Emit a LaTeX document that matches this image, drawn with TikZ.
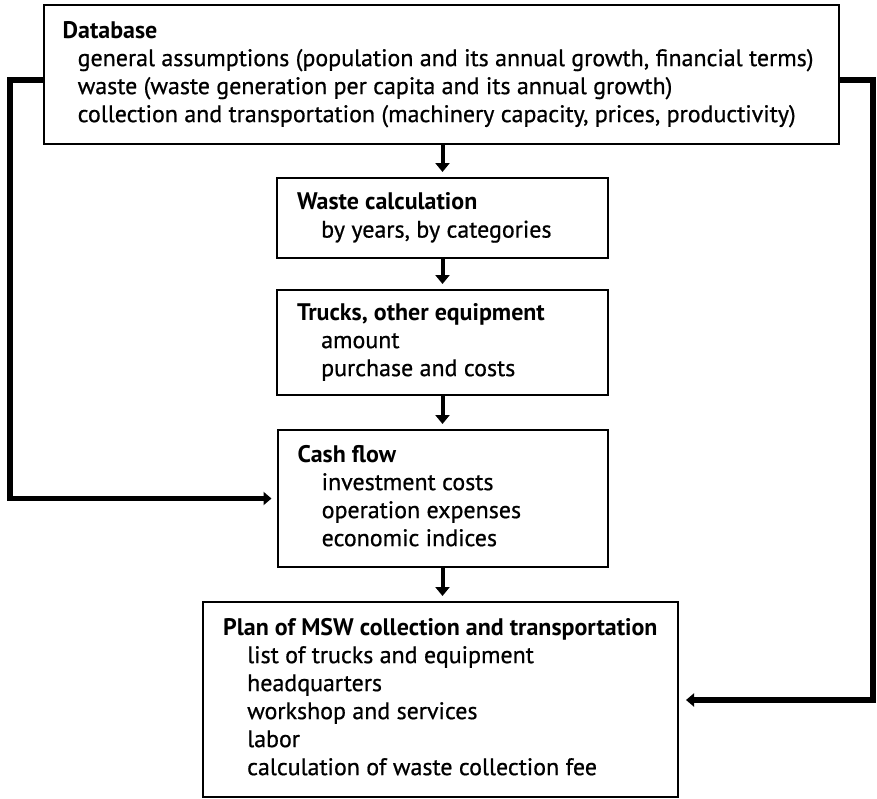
\documentclass[tikz,border=0pt]{standalone}
\usepackage{fontspec}
\setmainfont{PT Sans}[UprightFeatures={FakeBold=0.7}]
\usetikzlibrary{arrows.meta}
\newlength\reflen
\newcommand\LnT[1]{\strut\textbf{#1}}
\newcommand\LnI[2]{\strut\hspace*{#1}#2}
\begin{document}
\settowidth\reflen{\fontsize{20pt}{28pt}\selectfont collection and transportation (machinery capacity, prices, productivity)}%
\pgfmathsetmacro\fs{20*718/\reflen}%
\begin{tikzpicture}[x=1pt,y=-1pt,
  box/.style={draw=black, line width=2pt, inner sep=0pt, fill=white},
  txt/.style={anchor=west, inner sep=0pt, align=left, text=black,
              font=\fontsize{\fs pt}{28pt}\selectfont},
  down/.style={line width=4pt, -{Triangle[width=14pt,length=9pt]}, shorten >=5pt},
  feed/.style={line width=5.5pt, -{Triangle[width=13pt,length=8pt]}}]
\useasboundingbox (0,0) rectangle (877,798);
\fill[white] (0,0) rectangle (877,798);

% boxes
\node[box, minimum width=795pt, minimum height=139pt] (db) at (441.5,74.5) {};
\node[box, minimum width=331pt, minimum height=80pt] (waste) at (442.5,218) {};
\node[box, minimum width=331pt, minimum height=105pt] (trucks) at (442.5,342.5) {};
\node[box, minimum width=330pt, minimum height=137pt] (cash) at (442.5,498.5) {};
\node[box, minimum width=475pt, minimum height=195pt] (plan) at (440.5,699.5) {};

% texts
\node[txt] (dbt) at ([xshift=19.5pt]db.west) {\LnT{Database}\\
  \LnI{15pt}{general assumptions (population and its annual growth, financial terms)}\\
  \LnI{15pt}{waste (waste generation per capita and its annual growth)}\\
  \LnI{15pt}{collection and transportation (machinery capacity, prices, productivity)}};
\node[txt] (wastet) at ([xshift=21pt]waste.west) {\LnT{Waste calculation}\\
  \LnI{24pt}{by years, by categories}};
\node[txt] (truckst) at ([xshift=21pt]trucks.west) {\LnT{Trucks, other equipment}\\
  \LnI{24pt}{amount}\\
  \LnI{24pt}{purchase and costs}};
\node[txt] (casht) at ([xshift=21pt]cash.west) {\LnT{Cash flow}\\
  \LnI{24pt}{investment costs}\\
  \LnI{24pt}{operation expenses}\\
  \LnI{24pt}{economic indices}};
\node[txt] (plant) at ([xshift=21pt]plan.west) {\LnT{Plan of MSW collection and transportation}\\
  \LnI{24pt}{list of trucks and equipment}\\
  \LnI{24pt}{headquarters}\\
  \LnI{24pt}{workshop and services}\\
  \LnI{24pt}{labor}\\
  \LnI{24pt}{calculation of waste collection fee}};

% vertical arrows
\draw[down] (db.south -| waste.north) -- (waste.north);
\draw[down] (waste.south) -- (trucks.north);
\draw[down] (trucks.south) -- (cash.north);
\draw[down] (cash.south) -- (cash.south |- plan.north);

% feedback connectors
\coordinate (lc) at (10,80);
\coordinate (lb) at (10,498.5);
\draw[feed, shorten >=5pt] (db.west |- lc) -- (lc) -- (lb) -- (cash.west |- lb);
\coordinate (rc) at (873,80);
\coordinate (rb) at (873,700);
\draw[feed, shorten >=7pt] (db.east |- rc) -- (rc) -- (rb) -- (plan.east |- rb);
\end{tikzpicture}
\end{document}
